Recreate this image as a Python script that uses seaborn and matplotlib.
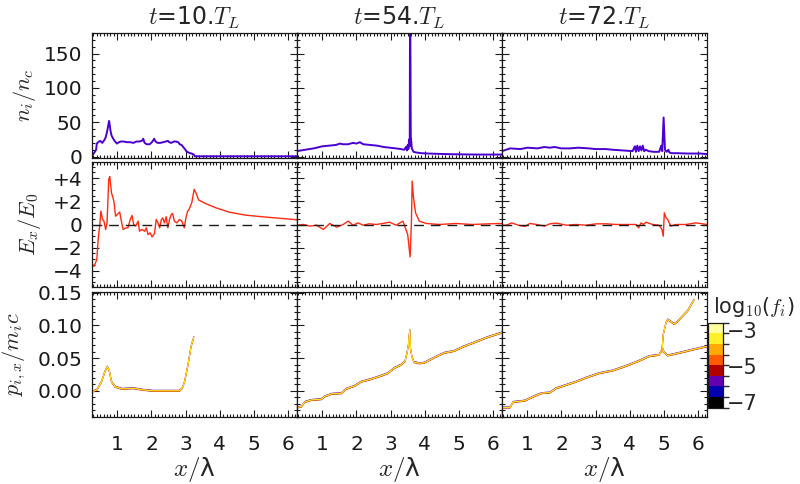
import matplotlib
matplotlib.use("Agg")
import matplotlib.pyplot as plt
import numpy as np
import seaborn as sns
from matplotlib.ticker import MultipleLocator, FixedLocator, FuncFormatter
from matplotlib.colors import ListedColormap, BoundaryNorm
from matplotlib.colorbar import ColorbarBase

# ---------------------------------------------------------------- data
times = ["10", "54", "72"]
x_ticks = [1, 2, 3, 4, 5, 6]

# ion density n_i / n_c
dens_x_10 = [0.27, 0.33, 0.38, 0.40, 0.44, 0.50, 0.56, 0.62, 0.66, 0.70,
             0.73, 0.76, 0.78, 0.80, 0.83, 0.87, 0.92, 0.99, 1.05, 1.10,
             1.19, 1.28, 1.38, 1.47, 1.56, 1.65, 1.72, 1.76, 1.80, 1.86,
             1.95, 2.03, 2.08, 2.12, 2.18, 2.26, 2.34, 2.42, 2.48, 2.52,
             2.58, 2.66, 2.72, 2.78, 2.83, 2.88, 2.93, 2.98, 3.02, 3.08,
             3.14, 3.20, 3.24, 3.27, 3.5, 4.0, 4.5, 5.0, 5.5, 6.0, 6.3]
dens_10 = [2, 6, 10, 19, 21, 23, 20, 24, 28, 36,
           44, 52, 46, 38, 31, 27, 23, 19, 21, 22,
           22, 21, 21, 20, 22, 22, 23, 26, 20, 18,
           18, 22, 26, 22, 20, 20, 21, 22, 23, 21,
           20, 22, 22, 21, 18, 17, 14, 11, 8, 6,
           5, 4, 3, 0.5, 0.5, 0.5, 0.5, 0.5, 0.5, 0.5, 0.5]

dens_x_54 = [0.26, 0.5, 0.75, 1.0, 1.2, 1.4, 1.52, 1.6, 1.75, 1.9,
             2.0, 2.1, 2.2, 2.4, 2.6, 2.8, 2.98, 3.15, 3.3, 3.4,
             3.45, 3.48, 3.50, 3.52, 3.54, 3.56, 3.57, 3.59, 3.62, 3.67,
             3.75, 3.9, 4.1, 4.4, 4.8, 5.2, 5.6, 6.0, 6.3]
dens_54 = [8, 10, 12, 15, 16, 17, 19, 18, 18, 20,
           19, 21, 18, 17, 16, 14, 13, 12, 11, 10,
           14, 9, 17, 11, 25, 15, 260, 30, 12, 7,
           6, 5, 4.5, 4, 3.5, 3.2, 3, 3, 3]

dens_x_72 = [0.26, 0.5, 0.8, 1.0, 1.3, 1.5, 1.66, 1.8, 2.0, 2.24,
             2.5, 2.8, 3.0, 3.3, 3.5, 3.8, 4.08, 4.15, 4.18, 4.22,
             4.26, 4.30, 4.34, 4.38, 4.42, 4.47, 4.55, 4.7, 4.86, 4.92,
             4.95, 4.99, 5.03, 5.08, 5.13, 5.16, 5.22, 5.4, 5.7, 6.07, 6.3]
dens_72 = [8, 12, 11, 13, 12, 14, 13, 14, 12, 12,
           13, 12, 11, 11, 10, 9, 8, 15, 7, 16,
           8, 15, 9, 16, 8, 10, 8, 7, 7, 16,
           8, 57, 10, 7, 10, 6, 5, 5, 4.5, 4.5, 3.5]

# longitudinal field E_x / E_0
ex_x_10 = [0.25, 0.32, 0.40, 0.44, 0.49, 0.52, 0.57, 0.61, 0.66, 0.70,
           0.75, 0.78, 0.83, 0.90, 0.95, 1.00, 1.07, 1.12, 1.17, 1.25,
           1.31, 1.38, 1.43, 1.48, 1.54, 1.61, 1.65, 1.72, 1.80, 1.85,
           1.90, 1.96, 2.02, 2.09, 2.14, 2.19, 2.24, 2.29, 2.33, 2.38,
           2.43, 2.48, 2.53, 2.58, 2.62, 2.67, 2.74, 2.82, 2.89, 2.96,
           3.01, 3.06, 3.10, 3.18, 3.25, 3.30, 3.38, 3.59, 3.88, 4.27,
           4.75, 5.24, 5.82, 6.30]
ex_10 = [-3.33, -3.62, -3.04, -1.30, 0.0, 1.16, 0.43, 0.29, -0.43, 0.14,
         3.91, 4.14, 2.75, 2.03, 0.72, 0.87, 1.07, 0.29, -0.43, -0.29,
         -0.29, 0.43, 0.78, 0.0, -0.14, 0.29, -0.58, -0.43, -0.58, -0.29,
         -0.87, -0.72, -1.07, -0.78, 0.43, 0.14, -0.29, 0.43, 0.58, 0.14,
         0.67, -0.29, 0.43, 0.87, 0.96, 0.29, 0.14, 0.43, 0.29, -0.29,
         0.58, 1.16, 1.30, 1.88, 3.04, 2.75, 2.12, 1.80, 1.45, 1.07,
         0.81, 0.67, 0.52, 0.40]

ex_x_54 = [0.25, 0.45, 0.64, 0.83, 1.03, 1.22, 1.42, 1.61, 1.76, 1.90,
           2.05, 2.19, 2.38, 2.58, 2.77, 2.97, 3.16, 3.36, 3.43, 3.50,
           3.57, 3.61, 3.63, 3.67, 3.73, 3.84, 4.04, 4.43, 4.91, 5.39,
           5.88, 6.27]
ex_54 = [-0.06, 0.0, -0.14, -0.06, -0.43, 0.09, -0.23, 0.0, 0.29, -0.06,
         0.14, -0.06, 0.06, 0.0, 0.09, 0.20, -0.06, 0.29, -0.29, -0.87,
         -2.80, 0.29, 3.75, 2.32, 1.01, 0.29, 0.09, 0.0, 0.09, 0.0,
         0.06, 0.09]

ex_x_72 = [0.25, 0.39, 0.54, 0.74, 0.93, 1.08, 1.27, 1.51, 1.66, 1.85,
           2.14, 2.43, 2.73, 3.02, 3.31, 3.60, 3.89, 4.18, 4.26, 4.33,
           4.40, 4.47, 4.67, 4.86, 4.94, 4.98, 5.01, 5.06, 5.11, 5.20,
           5.35, 5.64, 5.93, 6.27]
ex_72 = [-0.06, -0.06, 0.14, -0.06, -0.17, 0.09, 0.0, -0.14, 0.06, 0.12,
         -0.06, 0.0, -0.06, 0.06, 0.06, 0.0, 0.0, 0.0, -0.29, 0.14,
         0.0, 0.20, 0.0, -0.06, -0.43, -1.01, 1.01, 0.58, 0.43, -0.14,
         0.0, 0.0, 0.14, 0.0]

# ion phase space p_ix / m_i c
px_x_10 = [0.28, 0.40, 0.54, 0.64, 0.71, 0.77, 0.83, 0.93, 1.13, 1.47,
           1.76, 2.05, 2.44, 2.82, 2.90, 2.97, 3.07, 3.16, 3.24]
px_10 = [-0.001, 0.0015, 0.014, 0.030, 0.037, 0.030, 0.014, 0.0066, 0.003, 0.004,
         0.0015, 0.0, 0.0, 0.0, 0.004, 0.014, 0.040, 0.068, 0.082]

px_x_54 = [0.26, 0.39, 0.49, 0.68, 0.97, 1.07, 1.27, 1.56, 1.70, 1.95,
           2.14, 2.43, 2.72, 2.92, 3.11, 3.31, 3.42, 3.48, 3.52, 3.56,
           3.58, 3.62, 3.68, 3.85, 3.99, 4.28, 4.57, 4.86, 5.15, 5.45,
           5.84, 6.26]
px_54 = [-0.0255, -0.024, -0.017, -0.014, -0.0128, -0.0087, -0.0046, -0.0036, 0.003, 0.0077,
         0.014, 0.018, 0.023, 0.027, 0.035, 0.040, 0.045, 0.058, 0.070, 0.093,
         0.065, 0.053, 0.044, 0.042, 0.043, 0.051, 0.058, 0.061, 0.068, 0.074,
         0.082, 0.089]

px_x_72 = [0.27, 0.49, 0.59, 0.93, 1.18, 1.42, 1.66, 1.85, 2.14, 2.43,
           2.72, 3.11, 3.50, 3.89, 4.28, 4.57, 4.86, 4.96, 5.00, 5.11,
           5.45, 5.84, 6.26]
px_72 = [-0.0255, -0.0255, -0.017, -0.015, -0.0087, -0.0036, -0.0026, 0.004, 0.009, 0.014,
         0.020, 0.027, 0.031, 0.038, 0.046, 0.053, 0.055, 0.065, 0.059, 0.054,
         0.058, 0.063, 0.068]
px_x_72_fast = [4.94, 4.98, 5.06, 5.11, 5.20, 5.30, 5.40, 5.54, 5.69, 5.88]
px_72_fast = [0.060, 0.086, 0.104, 0.109, 0.106, 0.102, 0.106, 0.114, 0.122, 0.139]

# colour levels of log10(f_i)
level_colors = ["#000000", "#0000B0", "#6400B0", "#B00000",
                "#FF5A00", "#FFAA00", "#FFF02A", "#FFFFA0"]
level_bounds = np.linspace(-7.32, -2.6, 9)
level_ticks = [-7, -5, -3]

# ---------------------------------------------------------------- style
sns.set_theme(style="ticks")
plt.rcParams["font.family"] = ["DejaVu Sans"]
plt.rcParams["mathtext.fontset"] = "cm"
plt.rcParams["axes.unicode_minus"] = True

dens_color = "#4A00D0"
field_color = "#FF2A12"
fs_tick = 14.5
fs_lab = 16

fig = plt.figure(figsize=(8, 4.84), dpi=100)
W, H = 800.0, 484.0


def box(left, top, w, h):
    return [left / W, 1 - (top + h) / H, w / W, h / H]


lefts = [92, 297, 502]
tops = [33, 162, 292]
ax_w, ax_h = 205, 125

dens_data = [(dens_x_10, dens_10), (dens_x_54, dens_54), (dens_x_72, dens_72)]
field_data = [(ex_x_10, ex_10), (ex_x_54, ex_54), (ex_x_72, ex_72)]
phase_data = [[(px_x_10, px_10)],
              [(px_x_54, px_54)],
              [(px_x_72, px_72), (px_x_72_fast, px_72_fast)]]


def signed(v, pos):
    if abs(v) < 1e-9:
        return "0"
    return ("+%d" % v) if v > 0 else ("\u2212%d" % abs(v))


def phase_line(ax, xs, ys):
    ys = np.asarray(ys)
    # thin outer fringes from the low-density levels, bright core on top
    sns.lineplot(x=xs, y=ys + 0.0009, ax=ax, color=level_colors[2], lw=0.7,
                 estimator=None, sort=False)
    sns.lineplot(x=xs, y=ys - 0.0009, ax=ax, color=level_colors[3], lw=0.7,
                 estimator=None, sort=False)
    sns.lineplot(x=xs, y=ys, ax=ax, color=level_colors[5], lw=0.9,
                 estimator=None, sort=False)
    sns.lineplot(x=xs, y=ys, ax=ax, color=level_colors[6], lw=0.6,
                 estimator=None, sort=False)


for c in range(3):
    for r in range(3):
        ax = fig.add_axes(box(lefts[c], tops[r], ax_w, ax_h))
        if r == 0:
            xs, ys = dens_data[c]
            sns.lineplot(x=xs, y=ys, ax=ax, color=dens_color, lw=1.4,
                         estimator=None, sort=False)
            ax.set_ylim(-2, 180)
            ax.yaxis.set_major_locator(MultipleLocator(50))
            ax.yaxis.set_minor_locator(MultipleLocator(10))
            ax.set_title(r"$t$=" + times[c] + r".$T_L$", fontsize=17, pad=6)
            if c == 0:
                ax.set_ylabel(r"$n_i/n_c$", fontsize=fs_lab)
                ax.yaxis.set_label_coords(-0.265, 0.5)
        elif r == 1:
            xs, ys = field_data[c]
            sns.lineplot(x=xs, y=ys, ax=ax, color=field_color, lw=1.0,
                         estimator=None, sort=False)
            ax.axhline(0, color="k", lw=1.0, ls=(0, (7, 5)), zorder=5)
            ax.set_ylim(-5.4, 5.4)
            ax.yaxis.set_major_locator(FixedLocator([-4, -2, 0, 2, 4]))
            ax.yaxis.set_minor_locator(MultipleLocator(0.5))
            ax.yaxis.set_major_formatter(FuncFormatter(signed))
            if c == 0:
                ax.set_ylabel(r"$E_x/E_0$", fontsize=fs_lab)
                ax.yaxis.set_label_coords(-0.24, 0.5)
        else:
            for xs, ys in phase_data[c]:
                phase_line(ax, xs, ys)
            ax.set_ylim(-0.04, 0.151)
            ax.yaxis.set_major_locator(MultipleLocator(0.05))
            ax.yaxis.set_minor_locator(MultipleLocator(0.01))
            ax.yaxis.set_major_formatter(FuncFormatter(
                lambda v, p: ("%.2f" % v).replace("-", "\u2212")))
            ax.set_xlabel(r"$x/$λ", fontsize=18, labelpad=1)
            if c == 0:
                ax.set_ylabel(r"$p_{i,x}/m_ic$", fontsize=fs_lab)
                ax.yaxis.set_label_coords(-0.31, 0.5)

        ax.set_xlim(0.26, 6.26)
        ax.xaxis.set_major_locator(FixedLocator(x_ticks))
        ax.xaxis.set_minor_locator(MultipleLocator(0.1))
        ax.tick_params(which="both", direction="in", top=True, right=True,
                       colors="k", width=0.8, labelsize=fs_tick)
        ax.tick_params(which="major", length=5)
        ax.tick_params(which="minor", length=2.5)
        ax.tick_params(axis="x", pad=13)
        ax.tick_params(axis="y", pad=7)
        if r != 2:
            ax.tick_params(axis="x", labelbottom=False)
            ax.set_xlabel("")
        if c != 0:
            ax.tick_params(axis="y", labelleft=False)
            ax.set_ylabel("")
        for sp in ax.spines.values():
            sp.set_color("#1a1a1a")
            sp.set_linewidth(0.9)
        ax.set_facecolor("white")

# colour bar for log10(f_i)
cax = fig.add_axes(box(708, 322.7, 15, 85))
cmap = ListedColormap(level_colors)
norm = BoundaryNorm(level_bounds, cmap.N)
cb = ColorbarBase(cax, cmap=cmap, norm=norm, orientation="vertical",
                  ticks=level_ticks)
cb.ax.set_yticklabels(["\u2212%d" % abs(t) for t in level_ticks])
cb.ax.tick_params(length=0, labelsize=15, pad=3)
cb.outline.set_linewidth(0.9)
cb.outline.set_edgecolor("k")
fig.text(713 / W, 1 - 307 / H, r"log$_{10}$($f_i$)", fontsize=15,
         ha="left", va="center")

fig.savefig("out.png", dpi=100, facecolor="white")
